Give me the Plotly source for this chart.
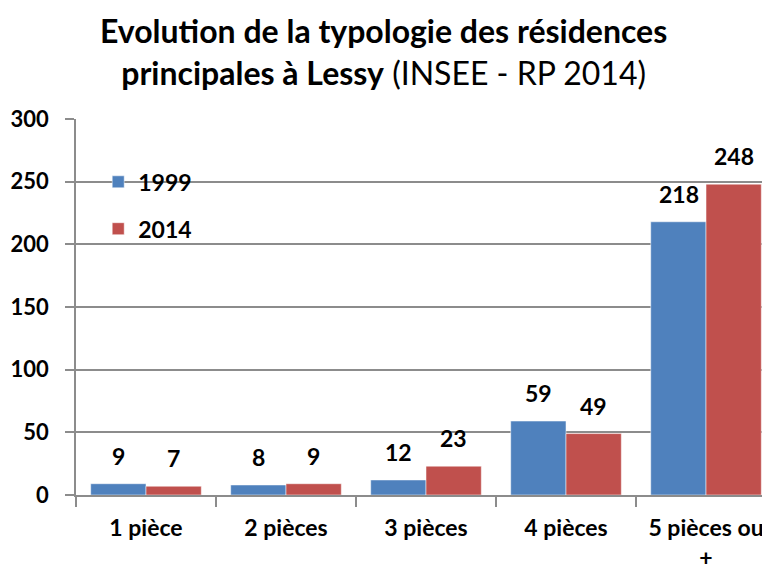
import plotly.graph_objects as go

categories = ["1 pièce", "2 pièces", "3 pièces", "4 pièces", "5 pièces ou<br>+"]
values_1999 = [9, 8, 12, 59, 218]
values_2014 = [7, 9, 23, 49, 248]
series_names = ["1999", "2014"]
colors = ["#4F81BD", "#C0504D"]
y_ticks = [0, 50, 100, 150, 200, 250, 300]

FONT = "Lato"

fig = go.Figure()
for name, vals, col in zip(series_names, [values_1999, values_2014], colors):
    fig.add_trace(go.Bar(
        name=name, x=categories, y=vals,
        marker=dict(color=col, line=dict(color="white", width=0.5)),
        legendgroup=name,
    ))

annotations = []
for vals, shift in [(values_1999, -27.5), (values_2014, 27.5)]:
    for c, v in zip(categories, vals):
        annotations.append(dict(
            x=c, y=v, xref="x", yref="y", text=str(v), showarrow=False,
            xshift=shift, yshift=28,
            font=dict(family=FONT, size=23, color="black", weight="bold"),
        ))

annotations.append(dict(
    x=0.443, y=1.18, xref="paper", yref="paper", xanchor="center", yanchor="middle",
    text="<b>Evolution de la typologie des résidences</b><br><b>principales à Lessy</b> (INSEE - RP 2014)",
    showarrow=False, font=dict(family=FONT, size=32, color="black"), align="center",
))

fig.update_layout(
    width=762, height=561,
    margin=dict(l=68, r=0, t=111, b=74, autoexpand=False),
    paper_bgcolor="white", plot_bgcolor="white",
    barmode="group", bargap=0.21, bargroupgap=0,
    annotations=annotations,
    showlegend=True,
    legend=dict(x=0.032, y=0.89, xanchor="left", yanchor="top",
                font=dict(family=FONT, size=23, color="black", weight="bold"),
                tracegroupgap=14, bgcolor="rgba(0,0,0,0)", itemwidth=30),
    font=dict(family=FONT, color="black"),
)
fig.update_xaxes(
    range=[-0.5, 4.457], showline=True, linecolor="#8C8C8C", linewidth=1.5,
    ticks="outside", tickson="boundaries", ticklen=10, tickcolor="#8C8C8C", tickwidth=1.5,
    tickfont=dict(family=FONT, size=23, color="black", weight="bold"), ticklabelstandoff=12,
    showgrid=False, automargin=False,
)
fig.update_yaxes(
    range=[0, 300], tickvals=y_ticks, showline=True, linecolor="#8C8C8C", linewidth=1.5,
    ticks="outside", ticklen=9, tickcolor="#8C8C8C", tickwidth=1.5,
    showgrid=True, gridcolor="#8C8C8C", gridwidth=1.5, zeroline=False,
    tickfont=dict(family=FONT, size=22, color="black", weight="bold"),
    ticklabelstandoff=12, automargin=False,
)

fig.write_html("out.html")
